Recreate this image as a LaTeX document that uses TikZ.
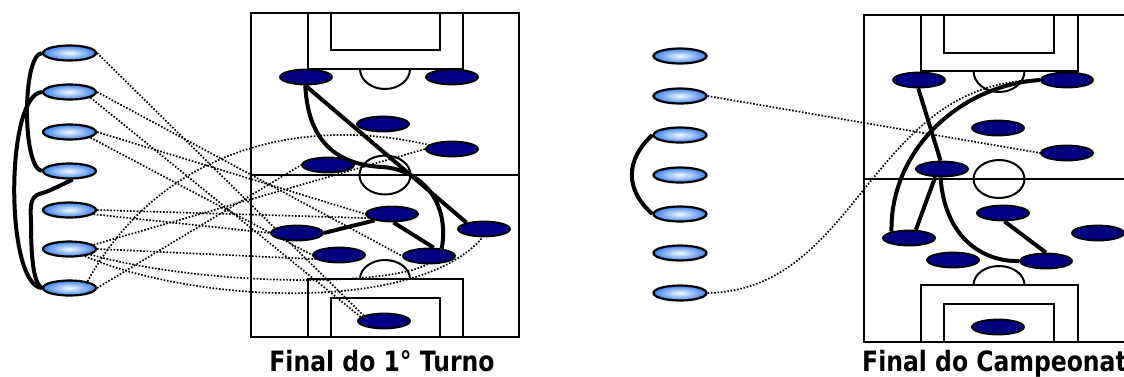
\documentclass[tikz,border=0pt]{standalone}
\usepackage{fontspec}
\setmainfont{DejaVu Sans}
\usetikzlibrary{shapes.geometric}
\pgfdeclarelayer{bg}
\pgfsetlayers{bg,main}
\definecolor{navyp}{RGB}{0,0,128}
\definecolor{lightb}{RGB}{60,130,235}
\definecolor{lightc}{RGB}{245,250,255}
\begin{document}
\begin{tikzpicture}[x=1pt,y=-1pt,
  lnode/.style={ellipse,draw=black,line width=2.2pt,minimum width=53pt,minimum height=15pt,inner sep=0pt,inner color=lightc,outer color=lightb},
  player/.style={ellipse,draw=black,fill=navyp,line width=1.8pt,minimum width=52pt,minimum height=15pt,inner sep=0pt},
  pitch/.style={line width=2pt,black},
  pitchout/.style={line width=2.4pt,black},
  link/.style={line width=4pt,black},
  weak/.style={line width=1.7pt,black,dash pattern=on 1.6pt off 1.7pt},
  caption/.style={font=\fontsize{28}{32}\selectfont\bfseries,inner sep=0pt}]
\useasboundingbox (0,0) rectangle (1124,376);
\clip (0,0) rectangle (1124,376);
% ---------------- left panel nodes
\foreach \i/\y in {1/53,2/92,3/132,4/171,5/210,6/249,7/288}
  \node[lnode] (ln\i) at (69.5,\y) {};
\foreach \i/\x/\y in {1/306/77,2/452/77,3/383/124,4/452/149,5/328/165,6/392/214,7/297/233,8/484/229,9/339/255,10/429/256,11/384/321}
  \node[player] (lp\i) at (\x,\y) {};
% ---------------- right panel nodes
\foreach \i/\y in {1/56,2/96,3/135,4/175,5/214,6/253,7/293}
  \node[lnode] (rn\i) at (680,\y) {};
\foreach \i/\x/\y in {1/919/80,2/1067/80,3/998/128,4/1067/153,5/942/169,6/1003/213,7/909/238,8/1098/233,9/953/260,10/1046/261,11/998/327}
  \node[player] (rp\i) at (\x,\y) {};
\begin{pgfonlayer}{bg}
% ---------------- left pitch
\draw[pitchout] (251,13) rectangle (519,337);
\draw[pitch] (251,175) -- (519,175);
\draw[pitch] (308,13) rectangle (463,69);
\draw[pitch] (331,13) rectangle (440,50);
\draw[pitch] (308,337) rectangle (463,279);
\draw[pitch] (331,337) rectangle (440,298);
\draw[pitch] (385,175) ellipse [x radius=25.5, y radius=19.5];
\draw[pitch] (360,69) arc [start angle=180, end angle=0, x radius=25, y radius=20];
\draw[pitch] (360,279) arc [start angle=180, end angle=360, x radius=25, y radius=19];
% ---------------- right pitch
\draw[pitchout] (864,15) rectangle (1134,342);
\draw[pitch] (864,179) -- (1134,179);
\draw[pitch] (921,15) rectangle (1078,71);
\draw[pitch] (944,15) rectangle (1054,53);
\draw[pitch] (921,342) rectangle (1078,285);
\draw[pitch] (944,342) rectangle (1054,304);
\draw[pitch] (999,179) ellipse [x radius=25.5, y radius=19];
\draw[pitch] (973.5,71) arc [start angle=180, end angle=0, x radius=25.5, y radius=21];
\draw[pitch] (973.5,285) arc [start angle=180, end angle=360, x radius=25.5, y radius=19];
% ---------------- left weak links
\draw[weak] (ln1.east) -- (lp11.165);
\draw[weak] (ln2.east) -- (lp10.west);
\draw[weak] (ln2.-15) -- (lp11.170);
\draw[weak] (ln3.east) -- (lp6.west);
\draw[weak] (ln3.-15) -- (lp9.west);
\draw[weak] (ln5.east) -- (lp6.190);
\draw[weak] (ln5.-10) -- (lp7.west);
\draw[weak] (ln6.10) -- (lp4.west);
\draw[weak] (ln6.east) -- (lp9.190);
\draw[weak] (ln6.-15) .. controls (200,285) and (380,288) .. (lp10.-100);
\draw[weak] (ln6.-25) .. controls (200,305) and (420,312) .. (lp8.-100);
\draw[weak] (ln7.20) .. controls (160,150) and (300,115) .. (lp4.170);
\draw[weak] (ln7.east) -- (lp5.west);
% ---------------- right weak links
\draw[weak] (rn2.east) -- (rp4.west);
\draw[weak] (rn7.east) .. controls (860,290) and (870,80) .. (rp2.west);
% ---------------- left strong links
\draw[link] (ln1.west) .. controls (22,55) and (22,168) .. (ln4.west);
\draw[link] (ln2.west) .. controls (5,95) and (5,285) .. (ln7.west);
\draw[link] (ln4.-70) .. controls (51,190) and (47,192) .. (39,194)
  .. controls (31,197) and (30,205) .. (31,220)
  .. controls (31,262) and (34,283) .. (ln7.west);
\draw[link] (lp1.-95) -- (lp8.160);
\draw[link] (lp1.-95) .. controls (308,140) and (335,165) .. (383,167)
  .. controls (420,170) and (450,200) .. (lp10.30);
\draw[link] (lp7.east) -- (lp6.200);
\draw[link] (lp6.-80) -- (lp10.60);
% ---------------- right strong links
\draw[link] (rn3.west) .. controls (625,160) and (625,190) .. (rn5.west);
\draw[link] (rp1.-95) -- (rp5.100);
\draw[link] (rp5.-130) -- (rp7.50);
\draw[link] (rp7.160) .. controls (890,150) and (960,85) .. (rp2.west);
\draw[link] (rp5.-100) .. controls (945,240) and (985,262) .. (rp10.west);
\draw[link] (rp6.-80) -- (rp10.90);
\end{pgfonlayer}
% ---------------- captions
\node[caption,anchor=base] (capl) at (382,371) {\scalebox{0.84}[1]{Final do 1° Turno}};
\node[caption,anchor=base west] (capr) at (862,371) {\scalebox{0.84}[1]{Final do Campeonato}};
\end{tikzpicture}
\end{document}
